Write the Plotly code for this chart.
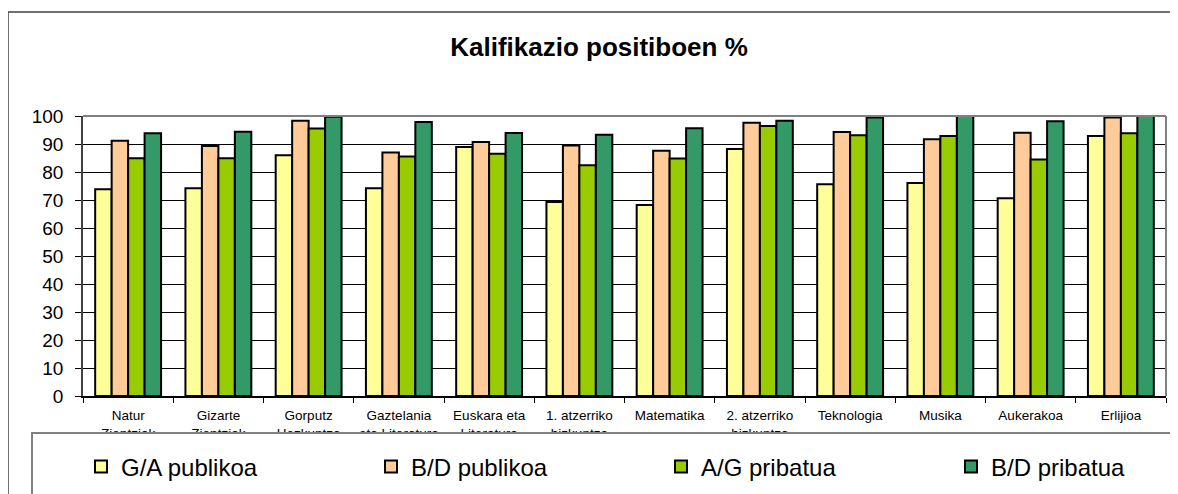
import plotly.graph_objects as go

categories = [
    "Natur<br>Zientziak", "Gizarte<br>Zientziak", "Gorputz<br>Hezkuntza",
    "Gaztelania<br>eta Literatura", "Euskara eta<br>Literatura", "1. atzerriko<br>hizkuntza",
    "Matematika", "2. atzerriko<br>hizkuntza", "Teknologia", "Musika", "Aukerakoa", "Erlijioa",
]
series_names = ["G/A publikoa", "B/D publikoa", "A/G pribatua", "B/D pribatua"]
ga_publikoa = [73.8, 74.2, 86.0, 74.2, 88.9, 69.3, 68.2, 88.2, 75.6, 76.1, 70.6, 92.9]
bd_publikoa = [91.2, 89.3, 98.3, 87.0, 90.7, 89.5, 87.6, 97.6, 94.3, 91.7, 94.0, 99.5]
ag_pribatua = [84.9, 84.9, 95.5, 85.5, 86.5, 82.4, 84.8, 96.4, 93.1, 92.9, 84.5, 93.8]
bd_pribatua = [93.8, 94.4, 99.7, 97.9, 93.9, 93.3, 95.6, 98.3, 99.5, 100.0, 98.1, 100.0]
colors = ["#FFFF99", "#FFCC99", "#99CC00", "#339966"]
y_ticks = list(range(0, 101, 10))

# The page body has an 8px default margin, so the figure is drawn 8px smaller
# and everything below is expressed in window (screenshot) pixels.
OFF = 8
WIN_W, WIN_H = 1178, 494
W, H = WIN_W - OFF, WIN_H - OFF
L, R, T, B = 83, 1166, 116, 396  # plot area in window px


def px(x):
    return (x - L) / (R - L)


def py(y):
    return (B - y) / (B - T)


FONT = "Arial, Liberation Sans, sans-serif"

fig = go.Figure()
for name, vals, col in zip(series_names, [ga_publikoa, bd_publikoa, ag_pribatua, bd_pribatua], colors):
    fig.add_trace(go.Bar(
        x=categories, y=vals, name=name,
        marker=dict(color=col, line=dict(color="#000000", width=2)),
    ))

shapes = [
    # outer chart border (extends past the right/bottom edge)
    dict(type="rect", xref="paper", yref="paper", x0=px(8), x1=px(WIN_W + 20), y0=py(WIN_H + 20), y1=py(12),
         line=dict(color="#404040", width=1.5), fillcolor="rgba(0,0,0,0)", layer="below"),
    # plot area border top / right (gray)
    dict(type="line", xref="paper", yref="paper", x0=0, x1=1, y0=1, y1=1,
         line=dict(color="#808080", width=2), layer="above"),
    dict(type="line", xref="paper", yref="paper", x0=1, x1=1, y0=0, y1=1,
         line=dict(color="#808080", width=2), layer="above"),
    # legend box
    dict(type="rect", xref="paper", yref="paper", x0=px(32), x1=px(WIN_W + 20), y0=py(WIN_H + 20), y1=py(433),
         line=dict(color="#808080", width=2), fillcolor="#FFFFFF", layer="above"),
]

fig.update_layout(
    width=W, height=H,
    margin=dict(l=L - OFF, r=WIN_W - R, t=T - OFF, b=WIN_H - B, autoexpand=False),
    paper_bgcolor="#FFFFFF", plot_bgcolor="#FFFFFF",
    font=dict(family=FONT, color="#000000"),
    title=dict(text="<b>Kalifikazio positiboen %</b>", x=(599 - OFF) / W, xanchor="center",
               y=1 - (47 - OFF) / H, yanchor="middle", font=dict(size=26, family=FONT, color="#000000")),
    barmode="group", bargap=0.27, bargroupgap=0,
    showlegend=True,
    legend=dict(orientation="h", x=px(81), xanchor="left", y=py(467), yanchor="middle",
                font=dict(size=24, family=FONT, color="#000000"),
                bgcolor="rgba(0,0,0,0)", borderwidth=0, entrywidth=245, entrywidthmode="pixels",
                traceorder="normal"),
    shapes=shapes,
    xaxis=dict(type="category", showgrid=False, showline=True, linecolor="#000000", linewidth=1.5,
               ticks="outside", tickson="boundaries", ticklen=5, tickcolor="#000000", tickwidth=1,
               ticklabelstandoff=6,
               tickfont=dict(size=13.5, family=FONT, color="#000000"), automargin=False, tickangle=0,
               fixedrange=True),
    yaxis=dict(range=[0, 100], tickvals=y_ticks, showgrid=True, gridcolor="#000000", gridwidth=1,
               showline=True, linecolor="#404040", linewidth=1.5, ticks="outside", ticklen=6,
               tickcolor="#000000", tickwidth=1, ticklabelstandoff=8,
               tickfont=dict(size=19, family=FONT, color="#000000"), automargin=False, zeroline=False,
               fixedrange=True),
)

fig.write_html("out.html")
